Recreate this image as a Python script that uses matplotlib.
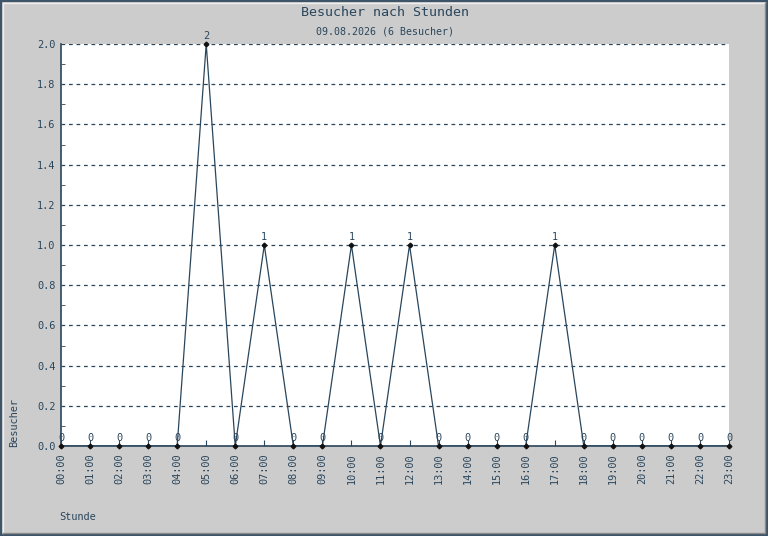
import numpy as np
import matplotlib.pyplot as plt
from matplotlib.lines import Line2D
from matplotlib.ticker import MultipleLocator

# --- DATA ---
hours = list(range(24))
hour_labels = [f"{h:02d}:00" for h in hours]
visitors = [0, 0, 0, 0, 0, 2, 0, 1, 0, 0, 1, 0, 1, 0, 0, 0, 0, 1, 0, 0, 0, 0, 0, 0]
title = "Besucher nach Stunden"
subtitle = "09.08.2026 (6 Besucher)"

ink = '#2a465c'
bg = '#cccccc'
mono = 'DejaVu Sans Mono'

W, H = 768, 536
fig = plt.figure(figsize=(W/100, H/100), dpi=100, facecolor=bg)
ax = fig.add_axes([61/W, 1 - 446/H, (729-61)/W, (446-44)/H])
ax.set_facecolor('white')

ax.plot(hours, visitors, color=ink, lw=0.9, zorder=3)
ax.plot(hours, visitors, ls='none', marker='D', markersize=2.4, color='#111111', zorder=4,
        clip_on=False)
for h, v in zip(hours, visitors):
    ax.annotate(str(v), (h, v), xytext=(0, 2.5), textcoords='offset points',
                ha='center', va='bottom', fontsize=7.4, color=ink, family=mono)

ax.set_xlim(0, 23)
ax.set_ylim(0, 2.0)
ax.set_xticks(hours)
ax.set_xticklabels(hour_labels, rotation=90, family=mono, fontsize=7.4, color=ink)
ax.yaxis.set_major_locator(MultipleLocator(0.2))
ax.yaxis.set_minor_locator(MultipleLocator(0.1))
ax.set_yticks(np.arange(0, 2.01, 0.2))
ax.set_yticklabels([f"{t:.1f}" for t in np.arange(0, 2.01, 0.2)], family=mono,
                   fontsize=7.4, color=ink)
ax.tick_params(axis='x', direction='in', length=4, color=ink, pad=5)
ax.tick_params(axis='y', which='major', direction='in', length=0, pad=4)
ax.tick_params(axis='y', which='minor', direction='in', length=3, color=ink)
ax.grid(axis='y', which='major', ls=(0, (3, 3)), color=ink, lw=0.9)
ax.set_axisbelow(True)

for s in ['top', 'right']:
    ax.spines[s].set_visible(False)
for s in ['left', 'bottom']:
    ax.spines[s].set_color(ink)
    ax.spines[s].set_linewidth(1.2)

fig.text(385/W, 1 - 13/H, title, ha='center', va='center', family=mono,
         fontsize=9.6, color=ink)
fig.text(385/W, 1 - 32/H, subtitle, ha='center', va='center', family=mono,
         fontsize=7.2, color=ink)
fig.text(14/W, 1 - 447/H, "Besucher", rotation=90, ha='center', va='bottom',
         family=mono, fontsize=7.4, color=ink)
fig.text(59/W, 1 - 517/H, "Stunde", ha='left', va='center', family=mono,
         fontsize=7.4, color=ink)

# bevelled frame
px = lambda v, n: v / n
fig.add_artist(Line2D([0, 1, 1, 0, 0], [0, 0, 1, 1, 0], transform=fig.transFigure,
                      color='#3e5468', lw=3))
fig.add_artist(Line2D([px(3, W), px(3, W), 1 - px(3, W)], [px(3, H), 1 - px(3, H), 1 - px(3, H)],
                      transform=fig.transFigure, color='#eeeeee', lw=1))
fig.add_artist(Line2D([px(3, W), 1 - px(3, W), 1 - px(3, W)], [px(3, H), px(3, H), 1 - px(3, H)],
                      transform=fig.transFigure, color='#8a8a8a', lw=1))

fig.savefig('out.png', dpi=100, facecolor=bg)
